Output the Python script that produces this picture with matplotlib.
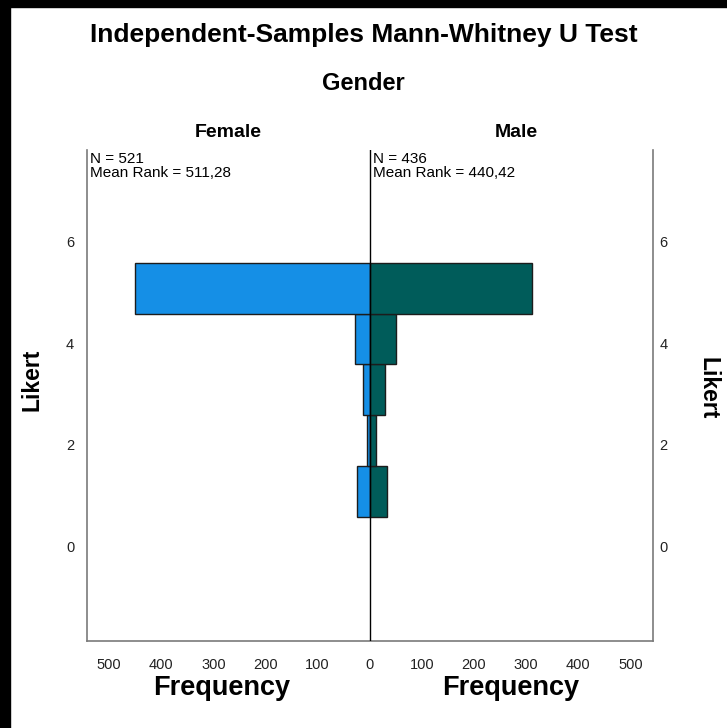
import matplotlib
matplotlib.use("Agg")
import matplotlib.pyplot as plt
from matplotlib.patches import Rectangle
from matplotlib.ticker import FuncFormatter
from matplotlib.transforms import ScaledTranslation

plt.rcParams["font.family"] = ["Liberation Sans", "DejaVu Sans"]

# data
likert = [1, 2, 3, 4, 5]
female = [24, 5, 13, 28, 451]
male = [33, 13, 29, 50, 311]
x_ticks = [-500, -400, -300, -200, -100, 0, 100, 200, 300, 400, 500]
y_ticks = [0, 2, 4, 6]

female_color = "#158fe6"
male_color = "#005c5a"

W, H = 727, 728
fig = plt.figure(figsize=(W / 100, H / 100), dpi=100)
fig.patch.set_facecolor("white")

# black strips at top and left edge of the screenshot
fig.patches.append(Rectangle((0, 0), 10 / W, 1, transform=fig.transFigure,
                             color="black", zorder=0))
fig.patches.append(Rectangle((0, 1 - 7 / H), 1, 7 / H, transform=fig.transFigure,
                             color="black", zorder=0))

ax = fig.add_axes([86.7 / W, 1 - 641 / H, (652.7 - 86.7) / W, (641 - 150) / H])
ax.barh(likert, [-v for v in female], height=1.0, color=female_color,
        edgecolor="#1c1c1c", linewidth=1.0, zorder=2)
ax.barh(likert, male, height=1.0, color=male_color,
        edgecolor="#1c1c1c", linewidth=1.0, zorder=2)
ax.axvline(0, color="black", linewidth=1.0, zorder=3)

ax.set_xlim(-543, 543)
ax.set_ylim(-1.94, 7.72)
ax.set_xticks(x_ticks)
ax.xaxis.set_major_formatter(FuncFormatter(lambda v, p: f"{abs(int(v))}"))
ax.set_yticks(y_ticks)
ax.tick_params(axis="both", length=0, labelsize=10.5, colors="#222222")
ax.tick_params(axis="x", pad=12)
ax.tick_params(axis="y", pad=9)
for s in ax.spines.values():
    s.set_color("#7a7a7a")
    s.set_linewidth(1.2)
ax.spines["top"].set_visible(False)

# right-hand tick labels sit closer to the frame
ax_r = ax.twinx()
ax_r.set_ylim(ax.get_ylim())
ax_r.set_yticks(y_ticks)
ax_r.tick_params(axis="y", length=0, labelsize=10.5, colors="#222222", pad=5)
for s in ax_r.spines.values():
    s.set_visible(False)

shift = ScaledTranslation(0, -3 / 72, fig.dpi_scale_trans)
for lbl in ax.get_yticklabels() + ax_r.get_yticklabels():
    lbl.set_transform(lbl.get_transform() + shift)

fig.text(0.5, 1 - 42 / H, "Independent-Samples Mann-Whitney U Test",
         ha="center", va="baseline", fontsize=19, fontweight="bold")
fig.text(0.5, 1 - 90 / H, "Gender", ha="center", va="baseline",
         fontsize=17, fontweight="bold")
fig.text(228 / W, 1 - 137 / H, "Female", ha="center", va="baseline",
         fontsize=14, fontweight="bold")
fig.text(516 / W, 1 - 137 / H, "Male", ha="center", va="baseline",
         fontsize=14, fontweight="bold")

fig.text(90 / W, 1 - 166 / H, "N = 521\nMean Rank = 511,28", ha="left",
         va="center", fontsize=11, linespacing=0.95)
fig.text(373 / W, 1 - 166 / H, "N = 436\nMean Rank = 440,42", ha="left",
         va="center", fontsize=11, linespacing=0.95)

fig.text(32 / W, 1 - 380 / H, "Likert", rotation=90, ha="center",
         va="center", fontsize=16.5, fontweight="bold")
fig.text(708 / W, 1 - 388 / H, "Likert", rotation=-90, ha="center",
         va="center", fontsize=16.5, fontweight="bold")

fig.text(222 / W, 1 - 695 / H, "Frequency", ha="center", va="baseline",
         fontsize=19.5, fontweight="bold")
fig.text(511 / W, 1 - 695 / H, "Frequency", ha="center", va="baseline",
         fontsize=19.5, fontweight="bold")

fig.savefig("out.png", dpi=100, facecolor="white")
